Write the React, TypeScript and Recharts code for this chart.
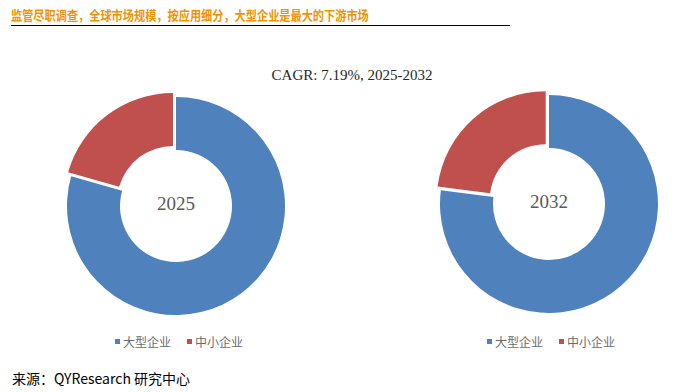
import { Cell, Pie, PieChart } from 'recharts';

const categories = ['大型企业', '中小企业'];
const colors = ['#4F81BD', '#C0504D'];
const share2025 = [79.4, 20.6];
const share2032 = [77, 23];
const years = ['2025', '2032'];

const title = '监管尽职调查，全球市场规模，按应用细分，大型企业是最大的下游市场';
const subtitle = 'CAGR: 7.19%, 2025-2032';
const source = '来源：QYResearch 研究中心';

const cjk = '"Microsoft YaHei", "Noto Sans CJK SC", sans-serif';
const serif = '"Times New Roman", "Liberation Serif", serif';

// where each donut sits, and its legend
const donuts = [
  { cx: 176, cy: 206, legendX: 115, legendY: 333 },
  { cx: 549, cy: 204, legendX: 487, legendY: 333 },
];

const EXPLODE = 5;

// shift of the exploded (second) slice, along its bisector
function explodeOffset(values: number[]) {
  const total = values.reduce((a, b) => a + b, 0);
  const firstEnd = 90 - (360 * values[0]) / total;
  const mid = ((firstEnd - 270) / 2) * (Math.PI / 180);
  return { dx: EXPLODE * Math.cos(mid), dy: -EXPLODE * Math.sin(mid) };
}

function Legend({ x, y }: { x: number; y: number }) {
  return (
    <div style={{ position: 'absolute', left: x, top: y, display: 'flex', alignItems: 'center', fontFamily: cjk, fontSize: 12, color: '#6b6b6b' }}>
      {categories.map((c, i) => (
        <div key={c} style={{ display: 'flex', alignItems: 'center', marginRight: i === 0 ? 16 : 0 }}>
          <span style={{ width: 5, height: 5, background: colors[i], display: 'inline-block', marginRight: 3 }} />
          <span>{c}</span>
        </div>
      ))}
    </div>
  );
}

export default function App() {
  const sets = [share2025, share2032];

  return (
    <div style={{ position: 'absolute', left: 0, top: 0, width: 680, height: 392, background: '#fff', overflow: 'hidden' }}>
      <PieChart width={680} height={392} margin={{ top: 0, right: 0, bottom: 0, left: 0 }}>
        {sets.map((values, k) => {
          const data = categories.map((name, i) => ({ name, value: values[i] }));
          const { dx, dy } = explodeOffset(values);
          const d = donuts[k];
          return [
            <Pie
              key={`main-${k}`}
              data={data}
              dataKey="value"
              cx={d.cx}
              cy={d.cy}
              innerRadius={56}
              outerRadius={109}
              startAngle={90}
              endAngle={-270}
              stroke="none"
              isAnimationActive={false}
            >
              {data.map((_, i) => (
                <Cell key={i} fill={i === 0 ? colors[0] : 'transparent'} />
              ))}
            </Pie>,
            <Pie
              key={`exp-${k}`}
              data={data}
              dataKey="value"
              cx={d.cx + dx}
              cy={d.cy + dy}
              innerRadius={56}
              outerRadius={109}
              startAngle={90}
              endAngle={-270}
              stroke="none"
              isAnimationActive={false}
            >
              {data.map((_, i) => (
                <Cell key={i} fill={i === 1 ? colors[1] : 'transparent'} />
              ))}
            </Pie>,
          ];
        })}
      </PieChart>

      {donuts.map((d, k) => (
        <div
          key={`year-${k}`}
          style={{
            position: 'absolute',
            left: d.cx - 40,
            width: 80,
            top: d.cy - 13,
            textAlign: 'center',
            fontFamily: serif,
            fontSize: 19,
            lineHeight: '22px',
            color: '#595959',
          }}
        >
          {years[k]}
        </div>
      ))}

      <div
        style={{
          position: 'absolute',
          left: 11,
          top: 5,
          fontFamily: cjk,
          fontSize: 13,
          fontWeight: 'bold',
          color: '#F39200',
          whiteSpace: 'nowrap',
          transform: 'scaleX(0.86)',
          transformOrigin: 'left top',
        }}
      >
        {title}
      </div>
      <div style={{ position: 'absolute', left: 11, top: 25, width: 499, height: 0, borderTop: '1px solid #000' }} />

      <div style={{ position: 'absolute', left: 0, width: 704, top: 67, textAlign: 'center', fontFamily: serif, fontSize: 15, color: '#262626' }}>
        {subtitle}
      </div>

      {donuts.map((d, k) => (
        <Legend key={k} x={d.legendX} y={d.legendY} />
      ))}

      <div style={{ position: 'absolute', left: 12, top: 368, fontFamily: cjk, fontSize: 14, color: '#000', whiteSpace: 'nowrap' }}>
        {source}
      </div>
    </div>
  );
}
